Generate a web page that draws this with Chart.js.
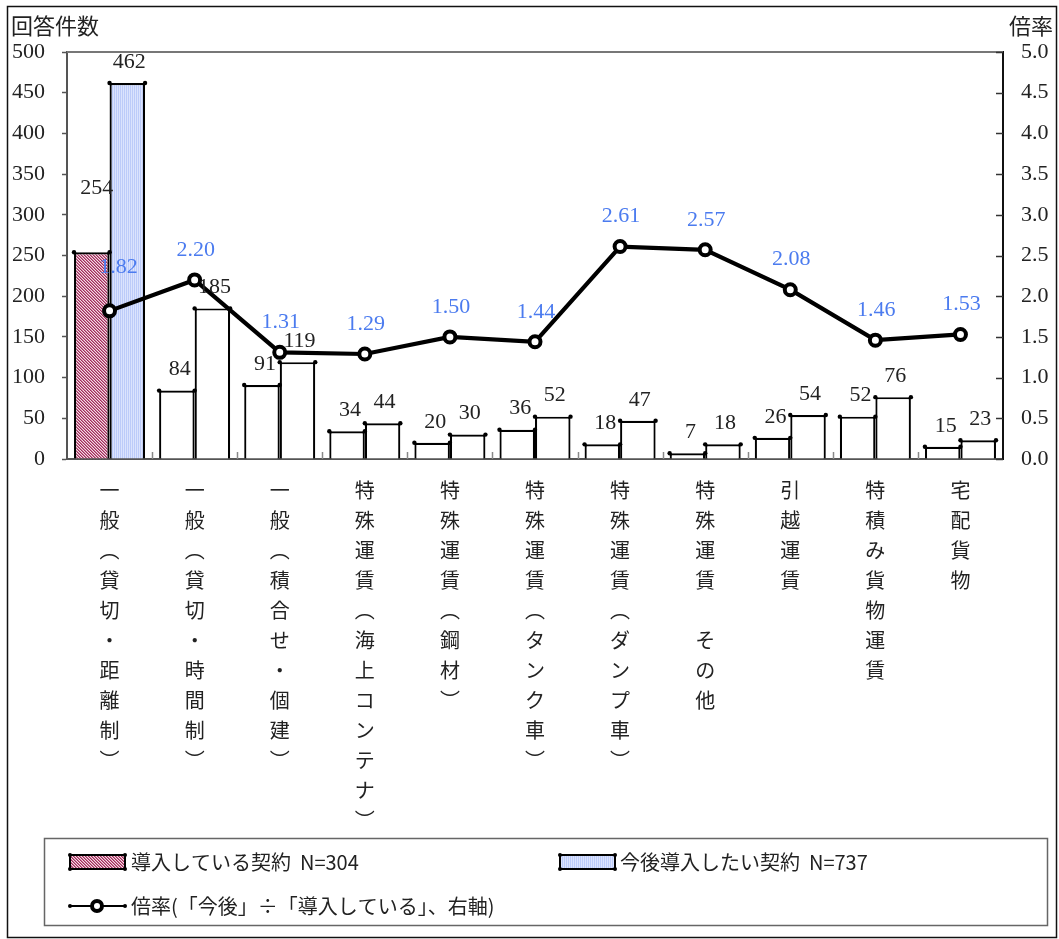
<!DOCTYPE html>
<html lang="ja">
<head>
<meta charset="utf-8">
<title>契約の導入状況と今後の導入意向</title>
<script src="https://cdn.jsdelivr.net/npm/chart.js@4.4.1/dist/chart.umd.min.js"></script>
<style>
  html, body { margin: 0; padding: 0; background: #fff; }
  #wrap { position: relative; width: 1059px; height: 939px; }
  canvas { display: block; }
</style>
</head>
<body>
<div id="wrap"><canvas id="chart" width="1059" height="939"></canvas></div>
<script>
// 運賃の種類（縦書きラベル：1要素＝1文字）
const categories = [
  ['一','般','︵','貸','切','・','距','離','制','︶'],
  ['一','般','︵','貸','切','・','時','間','制','︶'],
  ['一','般','︵','積','合','せ','・','個','建','︶'],
  ['特','殊','運','賃','︵','海','上','コ','ン','テ','ナ','︶'],
  ['特','殊','運','賃','︵','鋼','材','︶'],
  ['特','殊','運','賃','︵','タ','ン','ク','車','︶'],
  ['特','殊','運','賃','︵','ダ','ン','プ','車','︶'],
  ['特','殊','運','賃','　','そ','の','他'],
  ['引','越','運','賃'],
  ['特','積','み','貨','物','運','賃'],
  ['宅','配','貨','物']
];

// 回答件数
const introducedCounts = [254, 84, 91, 34, 20, 36, 18, 7, 26, 52, 15];
const desiredCounts    = [462, 185, 119, 44, 30, 52, 47, 18, 54, 76, 23];
// 倍率（「今後」÷「導入している」）
const ratios = [1.82, 2.20, 1.31, 1.29, 1.50, 1.44, 2.61, 2.57, 2.08, 1.46, 1.53];

// 軸
const countAxisMax = 500, countAxisStep = 50;
const ratioAxisMax = 5.0, ratioAxisStep = 0.5;

// 凡例・軸見出し
const legendIntroduced = '導入している契約  N=304';
const legendDesired    = '今後導入したい契約  N=737';
const legendRatio      = '倍率(「今後」÷「導入している」、右軸)';
const leftAxisTitle  = '回答件数';
const rightAxisTitle = '倍率';

const JP = '"Noto Sans CJK JP", "Noto Sans", sans-serif';
const SERIF = '"Liberation Serif", "DejaVu Serif", serif';
const RATIO_BLUE = '#4b7bef';

// ハッチング用のパターン
function makePattern(w, h, painter) {
  const c = document.createElement('canvas');
  c.width = w; c.height = h;
  const g = c.getContext('2d');
  painter(g);
  return g.createPattern(c, 'repeat');
}
const ctx0 = document.getElementById('chart').getContext('2d');
const redHatch = makePattern(3, 3, g => {
  g.fillStyle = '#f3dbe4'; g.fillRect(0, 0, 3, 3);
  g.fillStyle = '#a02c5c';
  for (let i = 0; i < 3; i++) g.fillRect(i, i, 1, 1);
  g.fillStyle = '#c87896';
  for (let i = 0; i < 3; i++) g.fillRect((i + 1) % 3, i, 1, 1);
});
const blueHatch = makePattern(2, 2, g => {
  g.fillStyle = '#bccbf9'; g.fillRect(0, 0, 1, 2);
  g.fillStyle = '#dbe3fd'; g.fillRect(1, 0, 1, 2);
});

const introducedFill = introducedCounts.map((_, i) => i === 0 ? redHatch : '#ffffff');
const desiredFill    = desiredCounts.map((_, i) => i === 0 ? blueHatch : '#ffffff');

// 値ラベルの位置調整（重なり回避）
const introLabelShift = introducedCounts.map((_, i) => i === 0 ? [5, -64] : [3, -21]);
const desiredLabelShift = desiredCounts.map(() => [2, -21]);
const ratioLabelShift = ratios.map((_, i) => i === 0 ? [9, -44] : [1, -30]);

function dot(ctx, x, y, r) {
  ctx.beginPath(); ctx.arc(x, y, r, 0, Math.PI * 2); ctx.fill();
}

const decorations = {
  id: 'decorations',
  beforeDraw(chart) {
    const { ctx } = chart;
    ctx.save();
    ctx.fillStyle = '#fff';
    ctx.fillRect(0, 0, chart.width, chart.height);
    ctx.restore();
  },
  beforeDatasetsDraw(chart) {
    const { ctx, chartArea: a, scales } = chart;
    ctx.save();
    // 上枠
    ctx.strokeStyle = '#777'; ctx.lineWidth = 2;
    ctx.beginPath(); ctx.moveTo(a.left, a.top); ctx.lineTo(a.right, a.top); ctx.stroke();
    // 右軸の内向き目盛
    ctx.strokeStyle = '#333'; ctx.lineWidth = 1.5;
    for (let v = 0; v <= ratioAxisMax + 1e-9; v += ratioAxisStep) {
      const y = Math.round(scales.y1.getPixelForValue(v)) + 0.5;
      ctx.beginPath(); ctx.moveTo(a.right - 7, y); ctx.lineTo(a.right, y); ctx.stroke();
    }
    // 横軸の区切り目盛（内向き）
    ctx.strokeStyle = '#888'; ctx.lineWidth = 1.5;
    for (let i = 1; i < categories.length; i++) {
      const x = Math.round((scales.x.getPixelForValue(i - 1) + scales.x.getPixelForValue(i)) / 2) + 0.5;
      ctx.beginPath(); ctx.moveTo(x, a.bottom - 7); ctx.lineTo(x, a.bottom); ctx.stroke();
    }
    ctx.restore();
  },
  afterDatasetDraw(chart, args) {
    const meta = args.meta;
    if (meta.type !== 'bar') return;
    const { ctx } = chart;
    ctx.save();
    ctx.fillStyle = '#000';
    meta.data.forEach(bar => {
      const p = bar.getProps(['x', 'y', 'width'], true);
      dot(ctx, p.x - p.width / 2, p.y, 2.2);
      dot(ctx, p.x + p.width / 2, p.y, 2.2);
    });
    ctx.restore();
  },
  afterDatasetsDraw(chart) {
    const { ctx } = chart;
    ctx.save();
    ctx.textAlign = 'center';
    ctx.textBaseline = 'middle';
    // 件数ラベル
    ctx.font = `22px ${SERIF}`;
    ctx.fillStyle = '#222';
    const m0 = chart.getDatasetMeta(0), m1 = chart.getDatasetMeta(1), m2 = chart.getDatasetMeta(2);
    m0.data.forEach((bar, i) => {
      const [dx, dy] = introLabelShift[i];
      ctx.fillText(String(introducedCounts[i]), bar.x + dx, bar.y + dy);
    });
    m1.data.forEach((bar, i) => {
      const [dx, dy] = desiredLabelShift[i];
      ctx.fillText(String(desiredCounts[i]), bar.x + dx, bar.y + dy);
    });
    // 倍率ラベル
    ctx.fillStyle = RATIO_BLUE;
    m2.data.forEach((pt, i) => {
      const [dx, dy] = ratioLabelShift[i];
      ctx.fillText(ratios[i].toFixed(2), pt.x + dx, pt.y + dy);
    });
    ctx.restore();
  },
  afterDraw(chart) {
    const { ctx } = chart;
    ctx.save();
    // 軸見出し
    ctx.fillStyle = '#222';
    ctx.font = `22px ${JP}`;
    ctx.textBaseline = 'middle';
    ctx.textAlign = 'left';
    ctx.fillText(leftAxisTitle, 11, 26);
    ctx.textAlign = 'right';
    ctx.fillText(rightAxisTitle, 1053, 26);

    // 凡例枠
    ctx.strokeStyle = '#666'; ctx.lineWidth = 1.5;
    ctx.strokeRect(44.5, 838.5, 1003, 87);

    const swatch = (x, y, fill) => {
      ctx.fillStyle = fill;
      ctx.fillRect(x, y, 55, 14);
      ctx.strokeStyle = '#000'; ctx.lineWidth = 2;
      ctx.strokeRect(x, y, 55, 14);
      ctx.fillStyle = '#000';
      [[x, y], [x + 55, y], [x, y + 14], [x + 55, y + 14]].forEach(([px, py]) => dot(ctx, px, py, 2));
    };
    swatch(70, 855, redHatch);
    swatch(560, 855, blueHatch);

    // 折れ線の凡例
    ctx.strokeStyle = '#000'; ctx.lineWidth = 2;
    ctx.beginPath(); ctx.moveTo(70, 906); ctx.lineTo(125, 906); ctx.stroke();
    ctx.fillStyle = '#000';
    dot(ctx, 70, 906, 2); dot(ctx, 125, 906, 2);
    ctx.lineWidth = 4;
    ctx.fillStyle = '#fff';
    ctx.beginPath(); ctx.arc(97, 906, 5, 0, Math.PI * 2); ctx.fill(); ctx.stroke();

    ctx.fillStyle = '#222';
    ctx.font = `20px ${JP}`;
    ctx.textAlign = 'left';
    ctx.textBaseline = 'middle';
    ctx.fillText(legendIntroduced, 131, 862);
    ctx.fillText(legendDesired, 620, 862);
    ctx.fillText(legendRatio, 131, 906);

    // 外枠
    ctx.strokeStyle = '#111'; ctx.lineWidth = 1.5;
    ctx.strokeRect(7.5, 6.5, 1049, 931);
    ctx.restore();
  }
};

new Chart(ctx0, {
  data: {
    labels: categories,
    datasets: [
      {
        type: 'bar', label: '導入している契約', data: introducedCounts, yAxisID: 'y', order: 1,
        backgroundColor: introducedFill, borderColor: '#000', borderWidth: 2.2,
        barPercentage: 1, categoryPercentage: 0.835
      },
      {
        type: 'bar', label: '今後導入したい契約', data: desiredCounts, yAxisID: 'y', order: 1,
        backgroundColor: desiredFill, borderColor: '#000', borderWidth: 2.2,
        barPercentage: 1, categoryPercentage: 0.835
      },
      {
        type: 'line', label: '倍率', data: ratios, yAxisID: 'y1', order: 0,
        borderColor: '#000', borderWidth: 4.2, tension: 0,
        pointRadius: 5.5, pointBorderWidth: 4, pointBackgroundColor: '#fff', pointBorderColor: '#000'
      }
    ]
  },
  options: {
    responsive: false,
    animation: false,
    layout: { padding: { top: 52, left: 0, right: 0, bottom: 0 } },
    plugins: { legend: { display: false }, tooltip: { enabled: false } },
    scales: {
      x: {
        type: 'category', offset: true,
        grid: { display: false, drawTicks: false },
        border: { color: '#555', width: 2 },
        ticks: {
          autoSkip: false, maxRotation: 0, minRotation: 0, padding: 16,
          color: '#222', font: { family: JP, size: 20, lineHeight: 1.5 }
        },
        afterFit(s) { s.height = 939 - 459; }
      },
      y: {
        position: 'left', min: 0, max: countAxisMax,
        grid: { drawOnChartArea: false, drawTicks: true, tickLength: 5, color: '#555', tickWidth: 1.5 },
        border: { color: '#555', width: 2 },
        ticks: { stepSize: countAxisStep, padding: 17, color: '#222', font: { family: SERIF, size: 22 } },
        afterFit(s) { s.width = 67; }
      },
      y1: {
        position: 'right', min: 0, max: ratioAxisMax,
        grid: { drawOnChartArea: false, drawTicks: false },
        border: { color: '#111', width: 2 },
        ticks: {
          stepSize: ratioAxisStep, padding: 18, color: '#222', font: { family: SERIF, size: 22 },
          callback: v => Number(v).toFixed(1)
        },
        afterFit(s) { s.width = 1059 - 1003; }
      }
    }
  },
  plugins: [decorations]
});
</script>
</body>
</html>
